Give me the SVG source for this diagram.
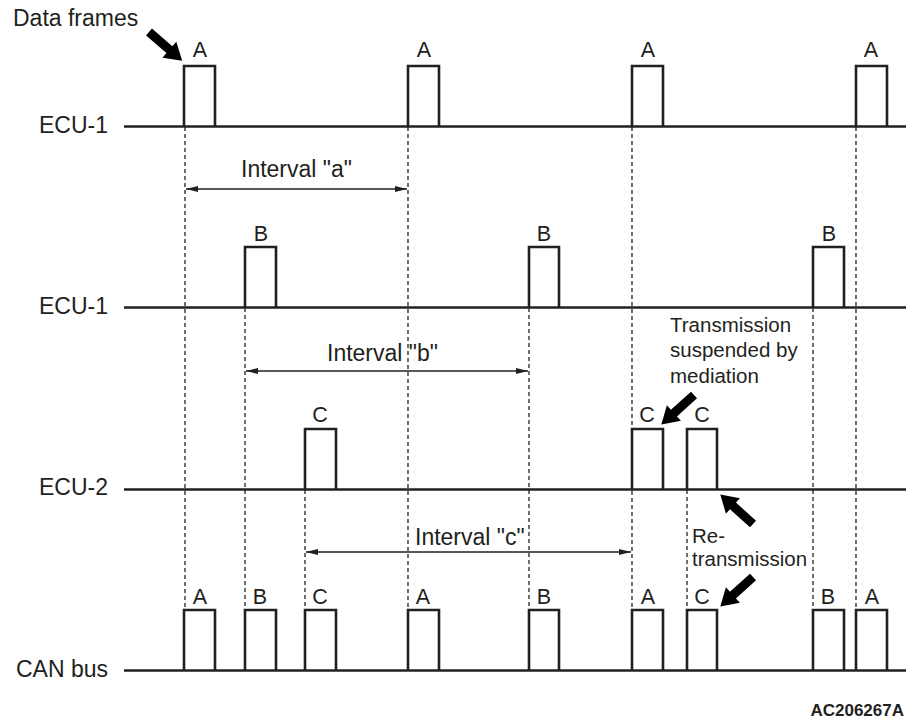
<svg xmlns="http://www.w3.org/2000/svg" width="906" height="719" viewBox="0 0 906 719">
<style>
text{font-family:"Liberation Sans",Arial,sans-serif;fill:#231f20;font-size:23px}
.lbl{text-anchor:middle;font-size:21.5px}
.axis{text-anchor:end}
.note{font-size:20.5px}
.line{stroke:#231f20;stroke-width:2.6;fill:none}
.pulse{stroke:#231f20;stroke-width:2.6;fill:none;stroke-linejoin:miter}
.dash{stroke:#231f20;stroke-width:1.3;stroke-dasharray:4,3;fill:none}
.dim{stroke:#231f20;stroke-width:1.3;fill:none;marker-start:url(#ah);marker-end:url(#ah)}
.big{fill:#000}
</style>
<defs>
<marker id="ah" viewBox="0 0 12 6" refX="12" refY="3" markerWidth="12" markerHeight="6" markerUnits="userSpaceOnUse" orient="auto-start-reverse">
<path d="M0,0 L12,3 L0,6 Z" fill="#231f20"/>
</marker>
<polygon id="barrow" points="0,-4.5 27,-4.5 27,-10.5 44,0 27,10.5 27,4.5 0,4.5"/>
</defs>
<rect width="906" height="719" fill="#fff"/>

<g id="connectors">
<line class="dash" x1="185" y1="127" x2="185" y2="610"/>
<line class="dash" x1="408" y1="127" x2="408" y2="610"/>
<line class="dash" x1="632" y1="127" x2="632" y2="610"/>
<line class="dash" x1="856" y1="127" x2="856" y2="610"/>
<line class="dash" x1="245" y1="308" x2="245" y2="610"/>
<line class="dash" x1="529" y1="308" x2="529" y2="610"/>
<line class="dash" x1="813" y1="308" x2="813" y2="610"/>
<line class="dash" x1="305" y1="490" x2="305" y2="610"/>
<line class="dash" x1="687" y1="490" x2="687" y2="610"/>
<line class="dim" x1="186" y1="189" x2="407" y2="189"/>
<line class="dim" x1="246" y1="371" x2="528" y2="371"/>
<line class="dim" x1="306" y1="552" x2="631" y2="552"/>
</g>

<g id="ecu1-a">
<line class="line" x1="124" y1="126.5" x2="906" y2="126.5"/>
<text class="axis" x="108" y="133">ECU-1</text>
<path class="pulse" d="M184,126.5 V66 H215 V126.5"/>
<path class="pulse" d="M408,126.5 V66 H439 V126.5"/>
<path class="pulse" d="M632,126.5 V66 H663 V126.5"/>
<path class="pulse" d="M856,126.5 V66 H887 V126.5"/>
<text class="lbl" x="200" y="57">A</text>
<text class="lbl" x="424" y="57">A</text>
<text class="lbl" x="648" y="57">A</text>
<text class="lbl" x="871" y="57">A</text>
</g>

<g id="ecu1-b">
<line class="line" x1="124" y1="307.5" x2="906" y2="307.5"/>
<text class="axis" x="108" y="314">ECU-1</text>
<path class="pulse" d="M245,307.5 V247 H276 V307.5"/>
<path class="pulse" d="M529,307.5 V247 H559 V307.5"/>
<path class="pulse" d="M813,307.5 V247 H844 V307.5"/>
<text class="lbl" x="261" y="241">B</text>
<text class="lbl" x="544" y="241">B</text>
<text class="lbl" x="829" y="241">B</text>
</g>

<g id="ecu2">
<line class="line" x1="124" y1="489.5" x2="906" y2="489.5"/>
<text class="axis" x="108" y="495">ECU-2</text>
<path class="pulse" d="M305,489.5 V429 H336 V489.5"/>
<path class="pulse" d="M632,489.5 V429 H663 V489.5"/>
<path class="pulse" d="M687,489.5 V429 H717 V489.5"/>
<text class="lbl" x="320" y="422">C</text>
<text class="lbl" x="647" y="422">C</text>
<text class="lbl" x="702" y="422">C</text>
</g>

<g id="canbus">
<line class="line" x1="124" y1="670.5" x2="906" y2="670.5"/>
<text class="axis" x="108" y="677">CAN bus</text>
<path class="pulse" d="M184,670.5 V610 H215 V670.5"/>
<path class="pulse" d="M245,670.5 V610 H276 V670.5"/>
<path class="pulse" d="M305,670.5 V610 H336 V670.5"/>
<path class="pulse" d="M408,670.5 V610 H439 V670.5"/>
<path class="pulse" d="M529,670.5 V610 H559 V670.5"/>
<path class="pulse" d="M632,670.5 V610 H663 V670.5"/>
<path class="pulse" d="M687,670.5 V610 H717 V670.5"/>
<path class="pulse" d="M813,670.5 V610 H844 V670.5"/>
<path class="pulse" d="M856,670.5 V610 H887 V670.5"/>
<text class="lbl" x="200" y="604">A</text>
<text class="lbl" x="260" y="604">B</text>
<text class="lbl" x="320" y="604">C</text>
<text class="lbl" x="423" y="604">A</text>
<text class="lbl" x="544" y="604">B</text>
<text class="lbl" x="648" y="604">A</text>
<text class="lbl" x="702" y="604">C</text>
<text class="lbl" x="828" y="604">B</text>
<text class="lbl" x="872" y="604">A</text>
</g>

<g id="interval-labels">
<text x="241" y="177">Interval "a"</text>
<text x="327" y="361">Interval "b"</text>
<text x="415" y="545">Interval "c"</text>
</g>

<g id="data-frames">
<text x="13" y="26">Data frames</text>
<use href="#barrow" class="big" transform="translate(149,32) rotate(41)"/>
</g>

<g id="suspended">
<text class="note" x="670" y="332">Transmission</text>
<text class="note" x="670" y="357">suspended by</text>
<text class="note" x="670" y="383">mediation</text>
<use href="#barrow" class="big" transform="translate(694,395) rotate(138)"/>
</g>

<g id="retransmission">
<text class="note" x="692" y="543">Re-</text>
<text class="note" x="692" y="566">transmission</text>
<use href="#barrow" class="big" transform="translate(753,524) rotate(-138)"/>
<use href="#barrow" class="big" transform="translate(753,577) rotate(138)"/>
</g>

<text x="904" y="716" style="font-weight:bold;font-size:17px;text-anchor:end">AC206267A</text>
</svg>
